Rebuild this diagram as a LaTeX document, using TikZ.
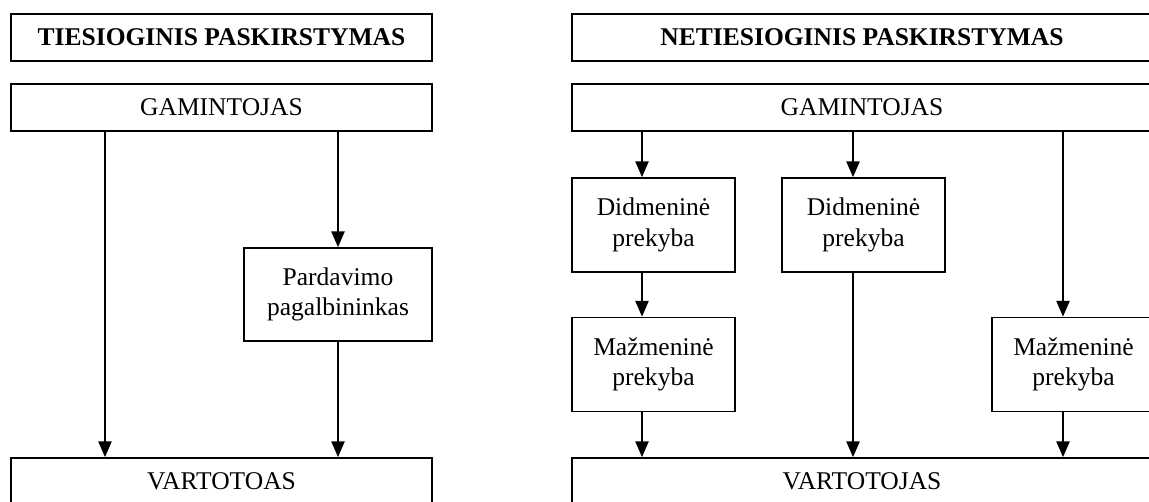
\documentclass[tikz,border=0pt]{standalone}
\usepackage{fontspec}
\setmainfont{Liberation Serif}
\usetikzlibrary{arrows.meta,positioning}

\begin{document}
\begin{tikzpicture}[x=0.47pt, y=-0.47pt, ->, >={Triangle[length=7.4pt,width=6.2pt]},
    line width=0.8pt,
    every node/.style={font=\fontsize{12}{14.2}\selectfont},
    box/.style={draw, rectangle, align=center, inner sep=0pt},
    wideL/.style={box, minimum width=197.9pt, minimum height=22.1pt},
    wideR/.style={box, minimum width=272.6pt, minimum height=22.1pt},
    shop/.style={box, minimum width=76.6pt, minimum height=44.2pt}
    ]
\useasboundingbox (0,0) rectangle (1149,501);
\clip (0,0) rectangle (1149,501);
% \draw[help lines] (0,0) grid[step=50] (1149,501);

% tiesioginis
\node[wideL, font=\fontsize{12}{14.2}\selectfont\bfseries] (tit1) at (221.5,37.5) {TIESIOGINIS PASKIRSTYMAS};
\node[wideL] (gam1) at (221.5,107.5) {GAMINTOJAS};
\node[box, minimum width=88.4pt, minimum height=43.7pt] (par1) at (338,294.5) {Pardavimo\\pagalbininkas};
\node[wideL] (var1) at (221.5,481.5) {VARTOTOAS};
\coordinate (l1) at (105,0);

% netiesioginis
\node[wideR, font=\fontsize{12}{14.2}\selectfont\bfseries] (tit2) at (862,37.5) {NETIESIOGINIS PASKIRSTYMAS};
\node[wideR] (gam2) at (862,107.5) {GAMINTOJAS};
\node[shop] (did1) at (653.5,225) {Didmeninė\\prekyba};
\node[shop] (did2) at (863.5,225) {Didmeninė\\prekyba};
\node[shop] (maz1) at (653.5,364.5) {Mažmeninė\\prekyba};
\node[shop] (maz3) at (1073.5,364.5) {Mažmeninė\\prekyba};
\node[wideR] (var2) at (862,481.5) {VARTOTOJAS};
\coordinate (r1) at (642,0);
\coordinate (r2) at (853,0);
\coordinate (r3) at (1063,0);

\draw (gam1.south -| l1) -- (var1.north -| l1);
\draw (gam1.south -| par1) -- (par1.north);
\draw (par1.south) -- (var1.north -| par1);

\draw (gam2.south -| r1) -- (did1.north -| r1);
\draw (did1.south -| r1) -- (maz1.north -| r1);
\draw (maz1.south -| r1) -- (var2.north -| r1);
\draw (gam2.south -| r2) -- (did2.north -| r2);
\draw (did2.south -| r2) -- (var2.north -| r2);
\draw (gam2.south -| r3) -- (maz3.north -| r3);
\draw (maz3.south -| r3) -- (var2.north -| r3);
\end{tikzpicture}
\end{document}
